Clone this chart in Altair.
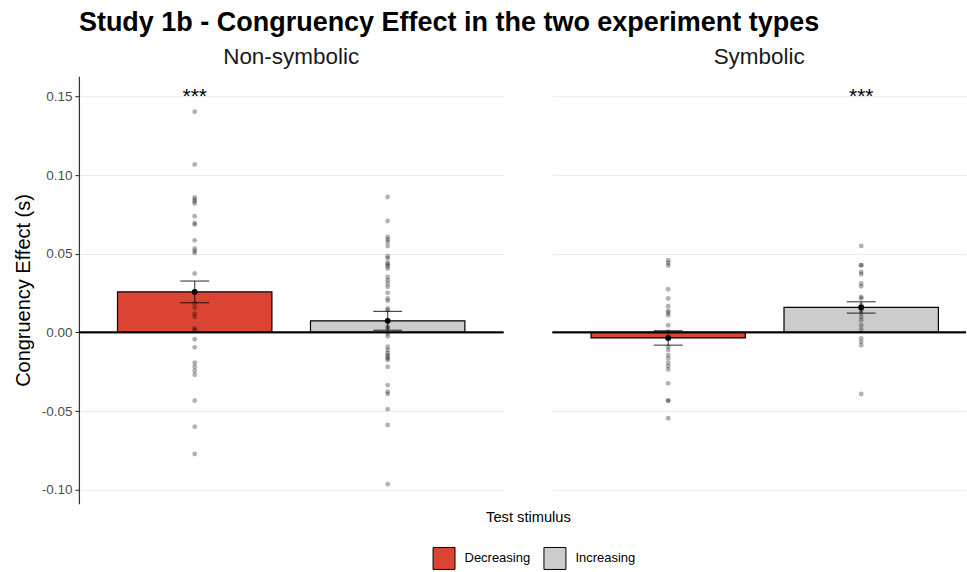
import altair as alt
import pandas as pd

FONT = "Liberation Sans"

experiments = ["Non-symbolic", "Symbolic"]
stimuli = ["Decreasing", "Increasing"]
bar_colors = ["#DB4332", "#CCCCCC"]

# Per-participant congruency effects (s)
nonsym_decreasing = [0.1404, 0.1069, 0.0858, 0.0845, 0.0834, 0.0820, 0.0739, 0.0696,
                     0.0686, 0.0586, 0.0534, 0.0518, 0.0506, 0.0375, 0.0184, 0.0156,
                     0.0120, 0.0099, 0.0025, 0.0015, -0.0043, -0.0095, -0.0193, -0.0218,
                     -0.0244, -0.0269, -0.0434, -0.0600, -0.0773]
nonsym_increasing = [0.0862, 0.0709, 0.0607, 0.0591, 0.0576, 0.0550, 0.0485, 0.0470,
                     0.0442, 0.0434, 0.0421, 0.0407, 0.0353, 0.0332, 0.0311, 0.0290,
                     0.0252, 0.0216, 0.0201, 0.0152, 0.0142, 0.0036, 0.0025, -0.0006,
                     -0.0024, -0.0091, -0.0112, -0.0130, -0.0144, -0.0155, -0.0165,
                     -0.0176, -0.0219, -0.0335, -0.0377, -0.0392, -0.0489, -0.0589, -0.0966]
sym_decreasing = [0.0459, 0.0442, 0.0426, 0.0275, 0.0216, 0.0167, 0.0137, 0.0125,
                  0.0110, 0.0046, 0.0005, -0.0091, -0.0112, -0.0144, -0.0165, -0.0193,
                  -0.0214, -0.0235, -0.0324, -0.0434, -0.0434, -0.0546]
sym_increasing = [0.0550, 0.0428, 0.0428, 0.0385, 0.0370, 0.0311, 0.0294, 0.0226,
                  0.0216, 0.0173, 0.0142, 0.0121, 0.0099, 0.0078, 0.0046, 0.0019,
                  -0.0038, -0.0060, -0.0081, -0.0392]

# Group summaries: Non-symbolic Dec/Inc, Symbolic Dec/Inc
group_means = [0.0258, 0.0074, -0.0035, 0.0159]
group_se = [0.0069, 0.0060, 0.0046, 0.0036]
significance = ["***", "", "", "***"]

y_ticks = [-0.10, -0.05, 0.00, 0.05, 0.10, 0.15]

raw = {
    ("Non-symbolic", "Decreasing"): nonsym_decreasing,
    ("Non-symbolic", "Increasing"): nonsym_increasing,
    ("Symbolic", "Decreasing"): sym_decreasing,
    ("Symbolic", "Increasing"): sym_increasing,
}

point_rows = []
for (exp, stim), vals in raw.items():
    for v in vals:
        point_rows.append({"experiment": exp, "stimulus": stim,
                           "pos": stimuli.index(stim) + 1, "value": v})
points_df = pd.DataFrame(point_rows)

summary_rows = []
i = 0
for exp in experiments:
    for stim in stimuli:
        summary_rows.append({"experiment": exp, "stimulus": stim,
                             "pos": stimuli.index(stim) + 1,
                             "mean": group_means[i], "se": group_se[i],
                             "sig": significance[i], "sig_y": 0.15})
        i += 1
summary_df = pd.DataFrame(summary_rows)

y_scale = alt.Scale(domain=[-0.109, 0.163], nice=False, zero=False)

y_axis_main = alt.Axis(
    values=y_ticks, format=".2f",
    labelExpr="replace(format(datum.value, '.2f'), '\u2212', '-')",
    grid=True, gridColor="#EBEBEB", gridWidth=1,
    domain=True, domainColor="#333333", domainWidth=1.2,
    ticks=True, tickColor="#333333", tickSize=4, tickWidth=1.1,
    labelFont=FONT, labelFontSize=13.5, labelColor="#4D4D4D", labelPadding=3,
    title="Congruency Effect (s)", titleFont=FONT, titleFontSize=20,
    titleFontWeight="normal", titleColor="#000000", titlePadding=8,
)
y_axis_plain = alt.Axis(
    values=y_ticks, grid=True, gridColor="#EBEBEB", gridWidth=1,
    domain=False, ticks=False, labels=False, title=None,
)


def panel(exp, width, x_max, first):
    y_axis = y_axis_main if first else y_axis_plain
    x_scale = alt.Scale(domain=[0.4, x_max], nice=False, zero=False)
    if first:
        x_axis = alt.Axis(domain=False, ticks=False, labels=False, grid=False,
                          title="Test stimulus", titleFont=FONT, titleFontSize=14.7,
                          titleFontWeight="normal", titleColor="#000000",
                          titleX=449.5, titleY=14, titleAlign="center",
                          titleBaseline="middle")
    else:
        x_axis = alt.Axis(domain=False, ticks=False, labels=False, grid=False, title=None)

    pts = alt.Chart(points_df).transform_filter(alt.datum.experiment == exp)
    summ = alt.Chart(summary_df).transform_filter(alt.datum.experiment == exp).transform_calculate(
        x0="datum.pos - 0.4", x1="datum.pos + 0.4",
        w0="datum.pos - 0.075", w1="datum.pos + 0.075",
        lo="datum.mean - datum.se", hi="datum.mean + datum.se", zero="0",
    )

    bars = summ.mark_rect(stroke="black", strokeWidth=1.2).encode(
        x=alt.X("x0:Q", scale=x_scale, axis=x_axis),
        x2="x1:Q",
        y=alt.Y("mean:Q", scale=y_scale, axis=y_axis),
        y2="zero:Q",
        fill=alt.Fill("stimulus:N", scale=alt.Scale(domain=stimuli, range=bar_colors),
                      legend=alt.Legend(
                          orient="none", legendX=354, legendY=471,
                          direction="horizontal", title=None,
                          symbolType="square", symbolSize=484,
                          symbolStrokeColor="black", symbolStrokeWidth=1,
                          symbolOpacity=1,
                          labelFont=FONT, labelFontSize=13, labelColor="#000000",
                          labelOffset=9, columnPadding=11, padding=0)),
    )

    zero_line = summ.mark_rule(color="black", strokeWidth=1.8).encode(
        y=alt.Y("zero:Q", scale=y_scale, axis=y_axis),
    )

    dots = pts.mark_circle(size=24, color="black", opacity=0.3).encode(
        x=alt.X("pos:Q", scale=x_scale, axis=x_axis),
        y=alt.Y("value:Q", scale=y_scale, axis=y_axis),
    )

    err_v = summ.mark_rule(color="black", opacity=0.7, strokeWidth=1.2).encode(
        x=alt.X("pos:Q", scale=x_scale, axis=x_axis),
        y=alt.Y("lo:Q", scale=y_scale, axis=y_axis),
        y2="hi:Q",
    )
    err_lo = summ.mark_rule(color="black", opacity=0.7, strokeWidth=1.2).encode(
        x=alt.X("w0:Q", scale=x_scale, axis=x_axis),
        x2="w1:Q",
        y=alt.Y("lo:Q", scale=y_scale, axis=y_axis),
    )
    err_hi = summ.mark_rule(color="black", opacity=0.7, strokeWidth=1.2).encode(
        x=alt.X("w0:Q", scale=x_scale, axis=x_axis),
        x2="w1:Q",
        y=alt.Y("hi:Q", scale=y_scale, axis=y_axis),
    )

    mean_dot = summ.mark_circle(size=34, color="black", opacity=1).encode(
        x=alt.X("pos:Q", scale=x_scale, axis=x_axis),
        y=alt.Y("mean:Q", scale=y_scale, axis=y_axis),
    )

    stars = summ.mark_text(font=FONT, fontSize=21, color="black", dy=0,
                           baseline="middle", align="center").encode(
        x=alt.X("pos:Q", scale=x_scale, axis=x_axis),
        y=alt.Y("sig_y:Q", scale=y_scale, axis=y_axis),
        text="sig:N",
    )

    return alt.layer(bars, zero_line, dots, err_v, err_lo, err_hi, mean_dot, stars).properties(
        width=width, height=428,
        title=alt.TitleParams(exp, font=FONT, fontSize=22.5, fontWeight="normal",
                              color="#1A1A1A", anchor="middle", offset=8),
    )


left = panel("Non-symbolic", 425, 2.6, True)
right = panel("Symbolic", 414, 0.4 + 2.2 * 414 / 425, False)

chart = alt.hconcat(left, right, spacing=49, bounds="flush").properties(
    title=alt.TitleParams("Study 1b - Congruency Effect in the two experiment types",
                          font=FONT, fontSize=27, fontWeight="bold", color="#000000",
                          anchor="start", frame="group", offset=9),
    padding={"left": 13, "top": 8, "right": 0, "bottom": 0},
    background="white",
).configure_view(strokeWidth=0, stroke="transparent")

chart.save("out.html", embed_options={"renderer": "svg", "actions": False})
